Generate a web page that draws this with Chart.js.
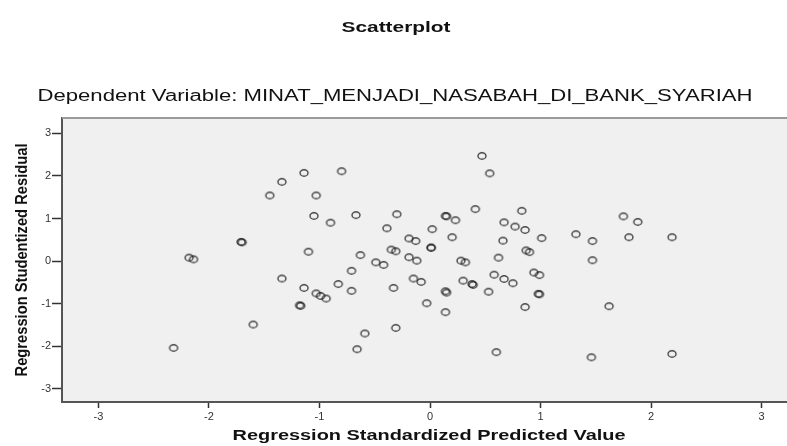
<!DOCTYPE html>
<html>
<head>
<meta charset="utf-8">
<script src="https://cdn.jsdelivr.net/npm/chart.js@4.4.1/dist/chart.umd.min.js"></script>
<style>
  html, body { margin: 0; padding: 0; background: #fff; overflow: hidden; }
</style>
</head>
<body>
<canvas id="chart" width="793" height="446"></canvas>
<script>
// --- data ---
const predictedValues = [
  0.47, 0.54, 0.41, 0.83, 0.14, 0.15, 0.23, 0.67, 0.77, 0.86,
  0.20, 0.66, 1.01, 1.32, 1.47, 0.87, 0.90, 1.47, 0.62, 0.28,
  0.32, 0.58, 0.67, 0.75, 0.94, 0.99, 0.30, 0.38, 0.39, 0.14,
  0.15, 0.53, 0.98, 0.99, 0.86, 0.14, 1.62, 0.60, 1.46, 1.75,
  1.88, 1.80, 2.19, 2.19, -1.14, -0.80, -1.03, -1.05, -0.90, -0.67,
  -0.30, -0.39, 0.02, -0.19, -0.13, 0.01, 0.01, -1.10, -0.63, -0.35,
  -0.31, -0.19, -0.12, -0.49, -0.42, -1.45, -1.34, -1.71, -1.70, -2.18,
  -2.14, -1.34, -1.14, -1.18, -1.17, -1.60, -2.32, -0.71, -0.83, -0.71,
  -1.03, -0.99, -0.94, -0.33, -0.15, -0.08, -0.03, -0.59, -0.31, -0.66
];
const studentizedResiduals = [
  2.47, 2.06, 1.22, 1.18, 1.06, 1.05, 0.96, 0.91, 0.81, 0.73,
  0.56, 0.48, 0.54, 0.63, 0.47, 0.25, 0.21, 0.02, 0.08, 0.01,
  -0.03, -0.32, -0.42, -0.52, -0.27, -0.33, -0.46, -0.54, -0.56, -0.71,
  -0.74, -0.72, -0.77, -0.78, -1.08, -1.20, -1.06, -2.14, -2.26, 1.05,
  0.92, 0.56, 0.56, -2.18, 2.07, 2.11, 1.54, 1.06, 0.90, 1.08,
  1.10, 0.77, 0.75, 0.53, 0.47, 0.32, 0.31, 0.22, 0.14, 0.27,
  0.23, 0.09, 0.01, -0.03, -0.09, 1.54, 1.86, 0.45, 0.44, 0.08,
  0.04, -0.41, -0.63, -1.04, -1.05, -1.49, -2.04, -0.23, -0.54, -0.70,
  -0.76, -0.82, -0.88, -0.63, -0.41, -0.49, -0.99, -1.70, -1.57, -2.07
];
const xRange = [-3.33, 3.23];
const yRange = [-3.31, 3.36];
const chartTitle = 'Scatterplot';
const chartSubtitle = 'Dependent Variable: MINAT_MENJADI_NASABAH_DI_BANK_SYARIAH';
const xTitle = 'Regression Standardized Predicted Value';
const yTitle = 'Regression Studentized Residual';

const puntos = predictedValues.map((x, i) => ({ x: x, y: studentizedResiduals[i] }));

// small open ellipse like the SPSS marker
function marcador() {
  const c = document.createElement('canvas');
  c.width = 12; c.height = 10;
  const g = c.getContext('2d');
  g.strokeStyle = 'rgba(25,25,25,0.8)';
  g.lineWidth = 1.4;
  g.beginPath();
  g.ellipse(6, 5, 4.0, 3.3, 0, 0, Math.PI * 2);
  g.stroke();
  return c;
}

// the original picture is stretched sideways, so each text is squeezed/stretched to its width
function textoAncho(ctx, texto, cx, cy, ancho) {
  const w = ctx.measureText(texto).width;
  ctx.save();
  ctx.translate(cx, cy);
  ctx.scale(ancho / w, 1);
  ctx.fillText(texto, 0, 0);
  ctx.restore();
}

const fondo = {
  id: 'fondo',
  beforeDraw(chart) {
    const { ctx, chartArea: a } = chart;
    ctx.save();
    ctx.fillStyle = '#f0f0f0';
    ctx.fillRect(a.left, a.top, a.right - a.left, a.bottom - a.top);
    ctx.restore();
  },
  afterDraw(chart) {
    const { ctx, chartArea: a } = chart;
    ctx.save();
    // top frame line
    ctx.strokeStyle = '#9a9a9a';
    ctx.lineWidth = 2;
    ctx.beginPath();
    ctx.moveTo(a.left, a.top);
    ctx.lineTo(a.right, a.top);
    ctx.stroke();

    ctx.fillStyle = '#111';
    ctx.textAlign = 'center';
    ctx.textBaseline = 'middle';
    ctx.font = 'bold 14px "Liberation Sans", Arial, sans-serif';
    textoAncho(ctx, chartTitle, 396, 28, 109);
    ctx.font = '16px "Liberation Sans", Arial, sans-serif';
    textoAncho(ctx, chartSubtitle, 395, 97, 715);

    ctx.font = 'bold 15px "Liberation Sans", Arial, sans-serif';
    textoAncho(ctx, xTitle, 429, 436, 393);

    ctx.translate(23, 260);
    ctx.rotate(-Math.PI / 2);
    ctx.font = 'bold 16px "Liberation Sans", Arial, sans-serif';
    textoAncho(ctx, yTitle, 0, 0, 233);
    ctx.restore();
  }
};

new Chart(document.getElementById('chart'), {
  type: 'scatter',
  data: {
    datasets: [{
      data: puntos,
      pointStyle: marcador(),
      pointRadius: 5,
      pointHoverRadius: 5
    }]
  },
  options: {
    responsive: false,
    animation: false,
    devicePixelRatio: 1,
    layout: { padding: { top: 118, right: 0, left: 0, bottom: 0 } },
    plugins: { legend: { display: false }, tooltip: { enabled: false } },
    scales: {
      x: {
        type: 'linear',
        min: xRange[0],
        max: xRange[1],
        afterFit: s => { s.height = 44; },
        ticks: {
          stepSize: 1,
          includeBounds: false,
          color: '#333',
          padding: 2,
          font: { family: '"Liberation Sans", Arial, sans-serif', size: 11 }
        },
        grid: { drawOnChartArea: false, drawTicks: true, tickLength: 6, tickColor: '#333', tickWidth: 1.5 },
        border: { color: '#555', width: 2 }
      },
      y: {
        type: 'linear',
        min: yRange[0],
        max: yRange[1],
        afterFit: s => { s.width = 62; },
        ticks: {
          stepSize: 1,
          includeBounds: false,
          color: '#333',
          padding: 1,
          font: { family: '"Liberation Sans", Arial, sans-serif', size: 11 }
        },
        grid: { drawOnChartArea: false, drawTicks: true, tickLength: 10, tickColor: '#333', tickWidth: 1.5 },
        border: { color: '#555', width: 2 }
      }
    }
  },
  plugins: [fondo]
});
</script>
</body>
</html>
